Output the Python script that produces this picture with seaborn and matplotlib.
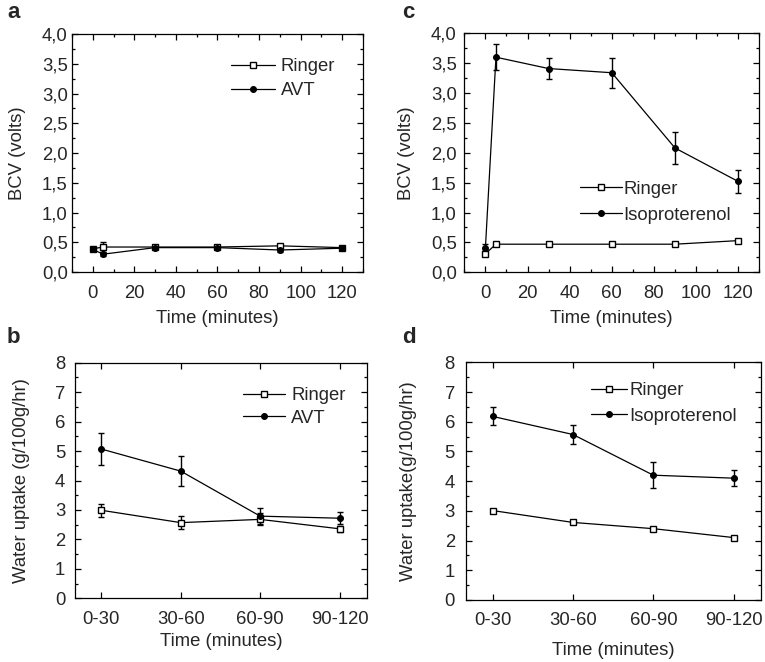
import numpy as np
import pandas as pd
import matplotlib
matplotlib.use("Agg")
import matplotlib.pyplot as plt
import seaborn as sns
from matplotlib.ticker import MultipleLocator

# ---------------- data ----------------
# Panel a (BCV, Ringer vs AVT)
a_time = [0, 5, 30, 60, 90, 120]
a_ringer = [0.39, 0.42, 0.42, 0.42, 0.44, 0.41]
a_ringer_err = [0.03, 0.08, 0.03, 0.03, 0.03, 0.03]
a_avt = [0.38, 0.30, 0.41, 0.41, 0.37, 0.40]
a_avt_err = [0.03, 0.03, 0.03, 0.03, 0.03, 0.03]

# Panel c (BCV, Ringer vs Isoproterenol)
c_time = [0, 5, 30, 60, 90, 120]
c_ringer = [0.31, 0.47, 0.47, 0.47, 0.47, 0.53]
c_ringer_err = [0.04, 0.03, 0.03, 0.03, 0.03, 0.03]
c_iso = [0.41, 3.60, 3.41, 3.34, 2.08, 1.52]
c_iso_err = [0.06, 0.22, 0.17, 0.25, 0.26, 0.20]

# Panels b/d (water uptake)
periods = ["0-30", "30-60", "60-90", "90-120"]
b_ringer = [2.99, 2.57, 2.68, 2.36]
b_ringer_err = [0.22, 0.21, 0.20, 0.10]
b_avt = [5.07, 4.32, 2.79, 2.72]
b_avt_err = [0.55, 0.50, 0.28, 0.21]

d_ringer = [3.01, 2.61, 2.40, 2.10]
d_ringer_err = [0.03, 0.03, 0.03, 0.03]
d_iso = [6.18, 5.57, 4.20, 4.10]
d_iso_err = [0.30, 0.31, 0.44, 0.27]

bcv_ticks = [0.0, 0.5, 1.0, 1.5, 2.0, 2.5, 3.0, 3.5, 4.0]
bcv_ticklabels = ["0,0", "0,5", "1,0", "1,5", "2,0", "2,5", "3,0", "3,5", "4,0"]
time_ticks = [0, 20, 40, 60, 80, 100, 120]
uptake_ticks = [0, 1, 2, 3, 4, 5, 6, 7, 8]

# ---------------- style ----------------
sns.set_style("ticks")
plt.rcParams["font.family"] = ["Liberation Sans", "DejaVu Sans"]
plt.rcParams["xtick.direction"] = "in"
plt.rcParams["ytick.direction"] = "in"

TICK_FS = 13.3
LABEL_FS = 13.3
LEG_FS = 13.3
LW = 0.9

fig = plt.figure(figsize=(7.65, 6.62), dpi=100)
ax_a = fig.add_axes([0.0941, 0.5891, 0.3804, 0.3595])
ax_c = fig.add_axes([0.6070, 0.5887, 0.3855, 0.3610])
ax_b = fig.add_axes([0.0980, 0.0962, 0.3813, 0.3559])
ax_d = fig.add_axes([0.6092, 0.0937, 0.3856, 0.3590])


def series(ax, x, y, err, open_marker, label):
    df = pd.DataFrame({"x": x, "y": y})
    if open_marker:
        kw = dict(marker="s", markersize=4.6, markerfacecolor="white",
                  markeredgecolor="black", markeredgewidth=1.0)
    else:
        kw = dict(marker="o", markersize=4.2, markerfacecolor="black",
                  markeredgecolor="black", markeredgewidth=0.8)
    ax.errorbar(x, y, yerr=err, fmt="none", ecolor="black", elinewidth=1.0,
                capsize=2.5, capthick=1.0, zorder=2)
    sns.lineplot(data=df, x="x", y="y", ax=ax, color="black", linewidth=LW,
                 label=label, sort=False, zorder=3, **kw)


def style_axes(ax, ypad):
    ax.tick_params(which="both", top=True, right=True, direction="in",
                   labelsize=TICK_FS, width=0.9, color="black")
    ax.tick_params(axis="x", which="both", pad=9)
    ax.tick_params(axis="y", which="both", pad=ypad)
    ax.tick_params(which="major", length=4)
    ax.tick_params(which="minor", length=2)
    for s in ax.spines.values():
        s.set_linewidth(0.9)
        s.set_color("black")
    ax.set_xlabel("Time (minutes)", fontsize=LABEL_FS)


# Panel a
series(ax_a, a_time, a_ringer, a_ringer_err, True, "Ringer")
series(ax_a, a_time, a_avt, a_avt_err, False, "AVT")
# Panel c
series(ax_c, c_time, c_ringer, c_ringer_err, True, "Ringer")
series(ax_c, c_time, c_iso, c_iso_err, False, "Isoproterenol")

for ax, ypad, lp in ((ax_a, 3, 11.5), (ax_c, 5.5, 11.5)):
    ax.set_xlim(-10, 130)
    ax.set_ylim(0, 4.0)
    ax.set_xticks(time_ticks)
    ax.xaxis.set_minor_locator(MultipleLocator(10))
    ax.set_yticks(bcv_ticks)
    ax.set_yticklabels(bcv_ticklabels)
    ax.yaxis.set_minor_locator(MultipleLocator(0.25))
    style_axes(ax, ypad)
    ax.set_ylabel("BCV (volts)", fontsize=LABEL_FS, labelpad=lp)
    ax.xaxis.labelpad = 6

# Panel b
xi = list(range(len(periods)))
series(ax_b, xi, b_ringer, b_ringer_err, True, "Ringer")
series(ax_b, xi, b_avt, b_avt_err, False, "AVT")
# Panel d
series(ax_d, xi, d_ringer, d_ringer_err, True, "Ringer")
series(ax_d, xi, d_iso, d_iso_err, False, "Isoproterenol")

for ax, ypad in ((ax_b, 7), (ax_d, 8)):
    ax.set_xlim(-0.33, 3.34)
    ax.set_ylim(0, 8)
    ax.set_xticks(xi)
    ax.set_xticklabels(periods)
    ax.set_yticks(uptake_ticks)
    ax.yaxis.set_minor_locator(MultipleLocator(0.5))
    style_axes(ax, ypad)

ax_b.set_ylabel("Water uptake (g/100g/hr)", fontsize=LABEL_FS, labelpad=18)
ax_d.set_ylabel("Water uptake(g/100g/hr)", fontsize=LABEL_FS, labelpad=20)
ax_b.xaxis.labelpad = 4
ax_d.xaxis.labelpad = 9

# Legends
leg_kw = dict(frameon=False, fontsize=LEG_FS, numpoints=1,
              borderaxespad=0, borderpad=0)
ax_a.legend(loc="upper left", bbox_to_anchor=(0.546, 0.898), labelspacing=0.38,
            handlelength=2.4, handletextpad=0.3, **leg_kw)
ax_c.legend(loc="upper left", bbox_to_anchor=(0.392, 0.384), labelspacing=0.49,
            handlelength=2.3, handletextpad=0.05, **leg_kw)
ax_b.legend(loc="upper left", bbox_to_anchor=(0.576, 0.897), labelspacing=0.32,
            handlelength=2.3, handletextpad=0.3, **leg_kw)
ax_d.legend(loc="upper left", bbox_to_anchor=(0.423, 0.917), labelspacing=0.47,
            handlelength=1.95, handletextpad=0.15, **leg_kw)

# Panel letters
for letter, (x, y) in {"a": (0.009, 0.966), "c": (0.526, 0.966),
                       "b": (0.009, 0.474), "d": (0.526, 0.474)}.items():
    fig.text(x, y, letter, fontsize=16, fontweight="bold", ha="left", va="bottom")

fig.savefig("out.png", dpi=100)
